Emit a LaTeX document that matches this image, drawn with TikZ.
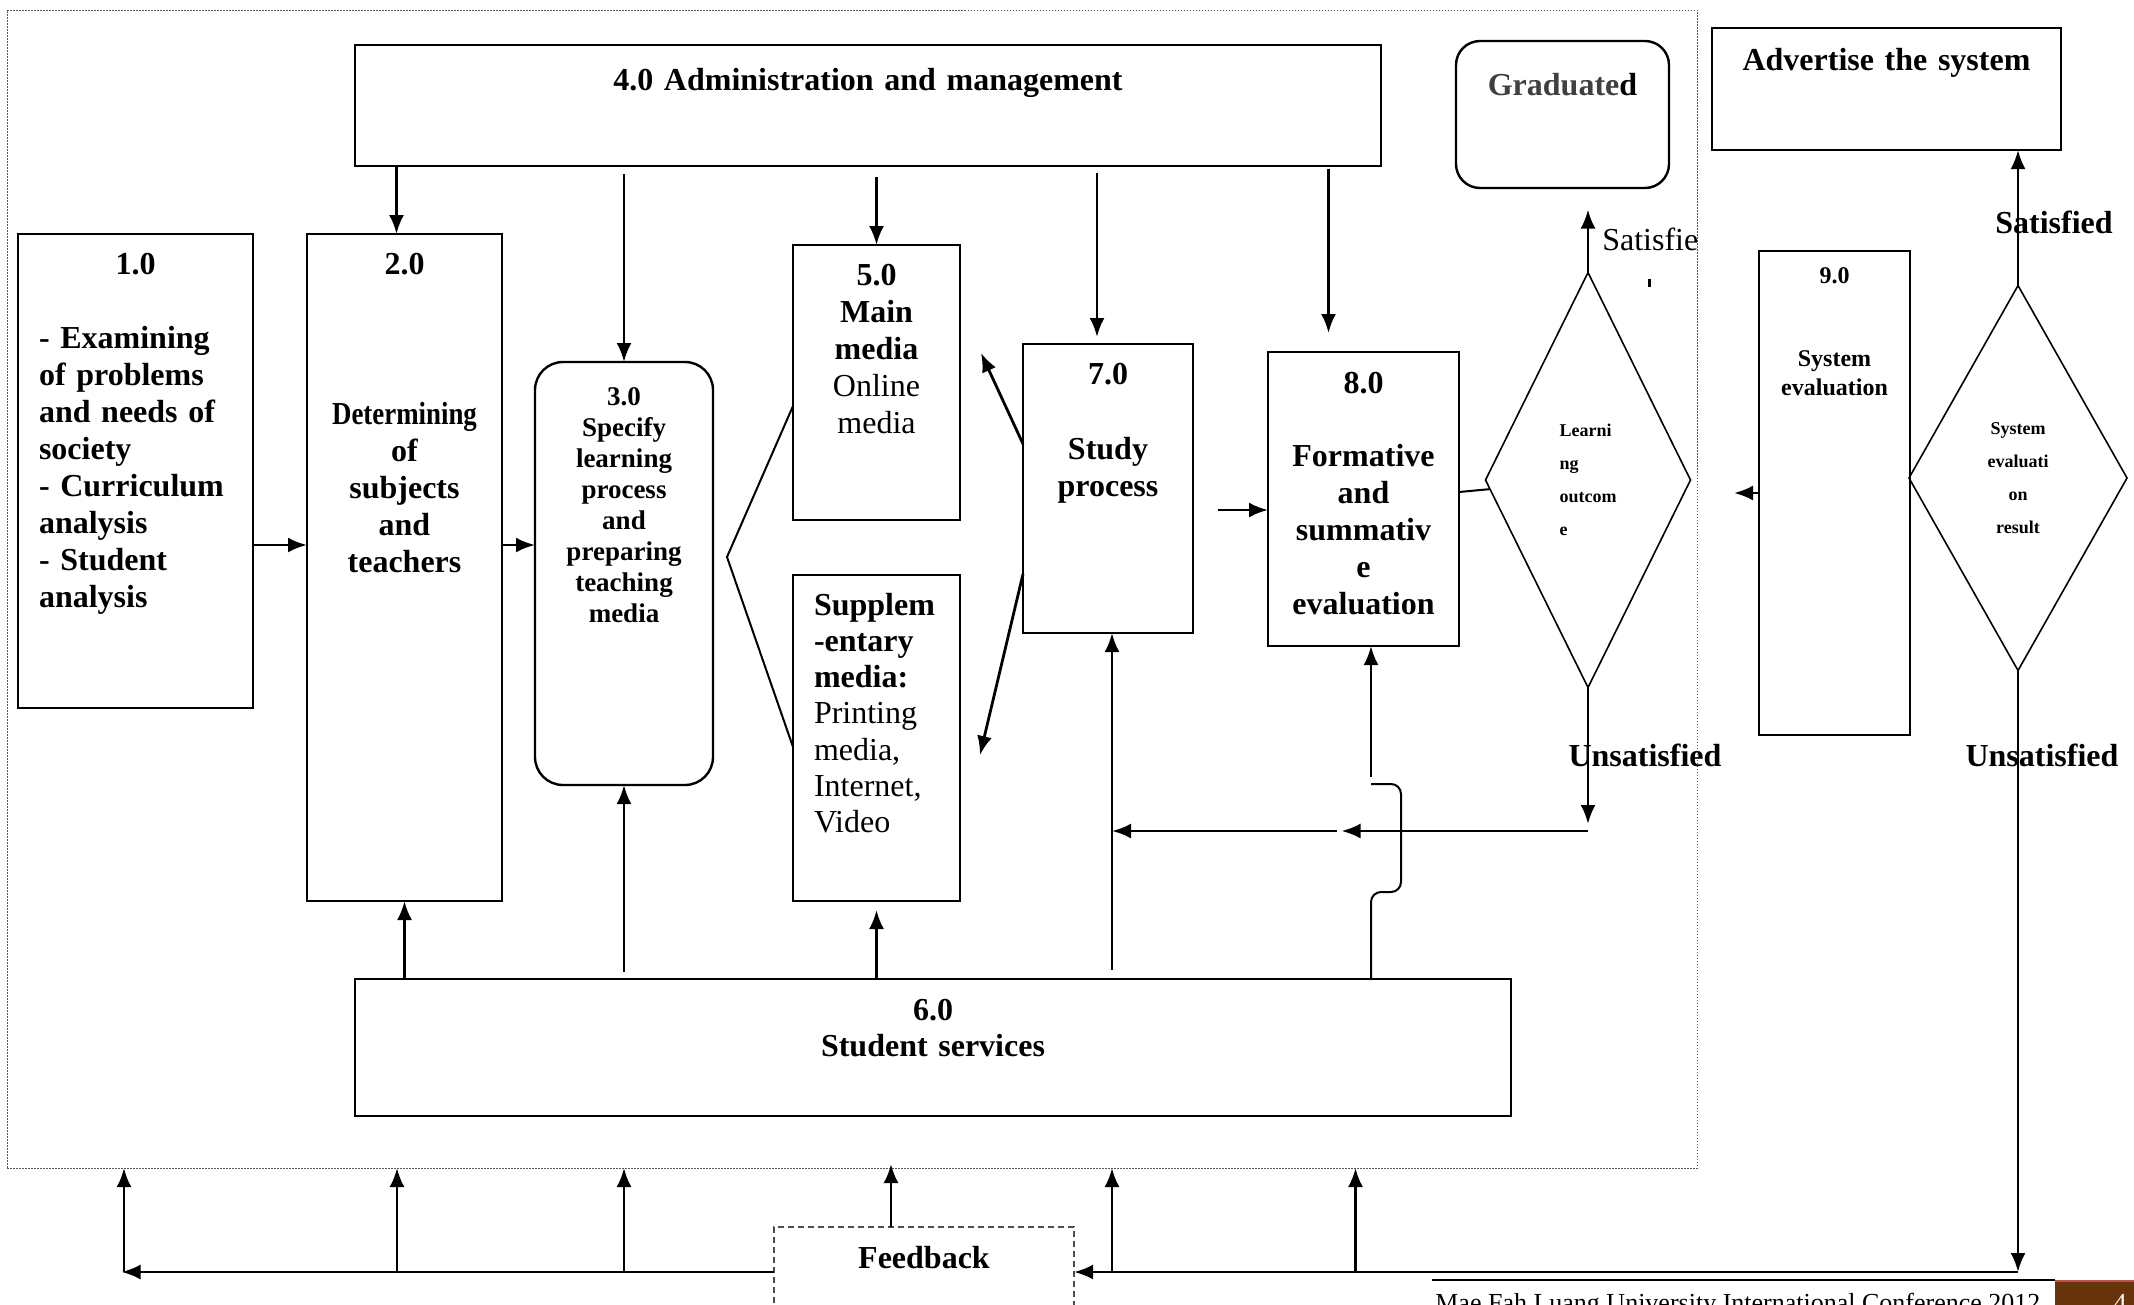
\documentclass[tikz,border=0pt]{standalone}
\usepackage{fontspec}
\setmainfont{Liberation Serif}
\usepackage{graphicx}
\usepackage{xcolor}
\usepackage{tikz}
\usetikzlibrary{arrows.meta, positioning, shapes.geometric}
\definecolor{gradgray}{HTML}{404040}
\definecolor{mfubrown}{HTML}{66330A}
\definecolor{mfured}{HTML}{C0504D}
\newcommand{\boxfont}{\fontsize{32}{37}\selectfont\bfseries}
\newcommand{\specfont}{\fontsize{27}{31}\selectfont\bfseries}
\newcommand{\smallfont}{\fontsize{24}{29}\selectfont\bfseries}
\newcommand{\diafont}{\fontsize{18}{33}\selectfont\bfseries}
\newcommand{\plainfont}{\fontsize{32}{37}\selectfont}

\begin{document}
\begin{tikzpicture}[
        x=1pt, y=-1pt,
        >={Latex[length=19pt,width=15pt]},
        every node/.style={outer sep=0pt},
        procbox/.style={draw, line width=2.4pt, anchor=north west, inner xsep=10pt, inner ysep=0pt, align=center, font=\boxfont},
        decision/.style={draw, diamond, line width=1.6pt, inner sep=0pt, font=\diafont},
        sysframe/.style={draw=black!65, line width=1pt, dash pattern=on 1.5pt off 1.5pt, anchor=north west, inner sep=0pt},
        flow/.style={->, line width=2.8pt},
        link/.style={line width=2pt}
    ]
        \useasboundingbox (0,0) rectangle (2134,1304);

        \node[sysframe, minimum width=1690pt, minimum height=1158pt] (frame) at (7,10) {};

        \node[procbox, text width=1006pt, text height=45pt, text depth=76pt] (admin) at (355,45) {4.0 Administration and management};
        \node[procbox, rounded corners=24pt, text width=193pt, text height=54pt, text depth=93pt] (grad) at (1456,41) {{\color{gradgray}Graduate}d};
        \node[procbox, text width=329pt, text height=42pt, text depth=80pt] (advert) at (1712,28) {Advertise the system};
        \node[procbox, inner xsep=21pt, align=left, text width=193pt, text height=40pt, text depth=434pt] (need) at (18,234) {\makebox[\linewidth]{1.0}\\[37pt]- Examining\\of problems\\and needs of\\society\\- Curriculum\\analysis\\- Student\\analysis};
        \node[procbox, text width=175pt, text height=40pt, text depth=627pt] (det) at (307,234) {2.0\\[113pt]\scalebox{0.84}[1]{Determining}\\of\\subjects\\and\\teachers};
        \node[procbox, rounded corners=28pt, font=\specfont, text width=158pt, text height=43pt, text depth=380pt] (spec) at (535,362) {3.0\\Specify\\learning\\process\\and\\preparing\\teaching\\media};
        \node[procbox, text width=147pt, text height=40pt, text depth=235pt] (main) at (793,245) {5.0\\Main\\media\\\mdseries Online\\\mdseries media};
        \node[procbox, inner xsep=21pt, align=left, font=\fontsize{32}{36.3}\selectfont\bfseries, text width=125pt, text height=40pt, text depth=286pt] (supp) at (793,575) {Supplem\\-entary\\media:\\\mdseries Printing\\\mdseries media,\\\mdseries Internet,\\\mdseries Video};
        \node[procbox, text width=150pt, text height=40pt, text depth=249pt] (study) at (1023,344) {7.0\\[38pt]Study\\process};
        \node[procbox, text width=171pt, text height=41pt, text depth=253pt] (eval) at (1268,352) {8.0\\[36pt]Formative\\and\\summativ\\e\\evaluation};
        \node[procbox, font=\smallfont, text width=131pt, text height=32pt, text depth=452pt] (sysev) at (1759,251) {9.0\\[54pt]System\\evaluation};
        \node[procbox, font=\fontsize{32}{36}\selectfont\bfseries, text width=1136pt, text height=41pt, text depth=96pt] (services) at (355,979) {6.0\\Student services};
        \node[procbox, draw=black!70, line width=1.3pt, dash pattern=on 6pt off 4pt, text width=280pt, text height=41pt, text depth=49pt] (feedback) at (774,1227) {Feedback};

        \node[decision, minimum width=205pt, minimum height=415pt, align=left] (outcome) at (1588,480) {Learni\\ng\\outcom\\e};
        \node[decision, minimum width=218pt, minimum height=385pt, align=center] (sysres) at (2018,478) {System\\evaluati\\on\\result};

        \node[anchor=base west, font=\plainfont] (satisfie) at (1599,250) {Satisfie};
        \fill (1648,279) rectangle (1651,287);
        \node[anchor=base, font=\boxfont] (unsat1) at (1645,766) {Unsatisfied};
        \node[anchor=base, font=\boxfont] (sat2) at (2054,233) {Satisfied};
        \node[anchor=base, font=\boxfont] (unsat2) at (2042,766) {Unsatisfied};

        % administration feeds the stages
        \draw[flow] ([xshift=-8pt]det.north |- admin.south) -- ([xshift=-8pt]det.north);
        \draw[flow] ([yshift=-8pt]admin.south -| spec.north) -- (spec.north);
        \draw[flow] ([yshift=-11pt]admin.south -| main.north) -- (main.north);
        \draw[flow] ([xshift=-11pt,yshift=-7pt]admin.south -| study.north) -- ([xshift=-11pt,yshift=7pt]study.north);
        \draw[flow] ([xshift=-35pt,yshift=-3pt]admin.south -| eval.north) -- ([xshift=-35pt,yshift=19pt]eval.north);

        % main row
        \coordinate (midrow) at ([yshift=-74pt]need.east);
        \draw[flow] (midrow) -- (midrow -| det.west);
        \draw[flow] (midrow -| det.east) -- (midrow -| spec.west);
        \draw[link] ([yshift=-23.5pt]main.west) -- ([xshift=14pt,yshift=16.5pt]spec.east) -- ([yshift=-9pt]supp.west);
        \draw[flow] ([yshift=44.5pt]study.west) -- ([xshift=21pt,yshift=29.5pt]main.east);
        \draw[flow] ([yshift=-85.5pt]study.west) -- ([xshift=20pt,yshift=-17pt]supp.east);
        \draw[flow, shorten <=25pt] ([yshift=-11pt]eval.west -| study.east) -- ([yshift=-11pt]eval.west);
        \draw[link] ([yshift=7pt]eval.east) -- (outcome);

        % learning outcome
        \draw[flow] (outcome.north) -- ++(0,-63);
        \coordinate (back) at ([yshift=-143.5pt]outcome.south);
        \draw[flow] (outcome.south) -- ([yshift=7pt]back);
        \draw[flow] (back) -- ([xshift=-22pt]back -| eval.south);
        \draw[flow] ([xshift=-27pt]back -| eval.south) -- ([xshift=4pt]back -| study.south);

        % student services
        \coordinate (bracelo) at ([xshift=7.5pt,yshift=-61pt]back -| eval.south);
        \coordinate (bracehi) at ([xshift=7.5pt,yshift=47pt]back -| eval.south);
        \draw[link, rounded corners=10pt] (services.north -| bracelo) -- (bracelo) -- ([xshift=30pt]bracelo) -- ([xshift=30pt]bracehi) -- (bracehi);
        \draw[flow] ([yshift=7pt]bracehi) -- (eval.south -| bracehi);
        \draw[flow] (services.north -| det.south) -- (det.south);
        \draw[flow] ([yshift=7pt]services.north -| spec.south) -- (spec.south);
        \draw[flow] (services.north -| supp.south) -- ([yshift=-9pt]supp.south);
        \draw[flow] ([xshift=4pt,yshift=9pt]services.north -| study.south) -- ([xshift=4pt]study.south);

        % system evaluation
        \draw[flow] (sysev.west) -- ++(-25,0);
        \draw[flow] (sysres.north) -- (advert.south -| sysres.north);
        \draw[flow] (sysres.south) -- (sysres.south |- feedback.east);
        \draw[flow] (sysres.south |- feedback.east) -- (feedback.east);

        % feedback loop
        \draw[flow] ([xshift=-33pt]feedback.north) -- ([xshift=-33pt,yshift=4pt]feedback.north |- frame.south);
        \draw[flow] (feedback.west) -- ([xshift=-14pt]need.south |- feedback.west);
        \draw[flow] ([xshift=-11.5pt]need.south |- feedback.west) -- ([xshift=-11.5pt]need.south |- frame.south);
        \draw[flow] ([xshift=-7.5pt]det.south |- feedback.west) -- ([xshift=-7.5pt]det.south |- frame.south);
        \draw[flow] (spec.south |- feedback.west) -- (spec.south |- frame.south);
        \draw[flow] ([xshift=4pt]study.south |- feedback.east) -- ([xshift=4pt]study.south |- frame.south);
        \draw[flow] ([xshift=-8pt]eval.south |- feedback.east) -- ([xshift=-8pt]eval.south |- frame.south);

        % page footer
        \draw[line width=2.5pt] (1432,1280) -- (2055,1280);
        \fill[mfubrown] (2055,1281) rectangle (2140,1310);
        \draw[mfured, line width=1.5pt] (2055,1281) -- (2134,1281);
        \node[anchor=base west, font=\fontsize{26}{30}\selectfont] (footer) at (1432,1311) {Mae Fah Luang University International Conference 2012};
        \node[anchor=base, font=\fontsize{26}{30}\selectfont, text=white] (pagenum) at (2120,1311) {4};
    \end{tikzpicture}
\end{document}
